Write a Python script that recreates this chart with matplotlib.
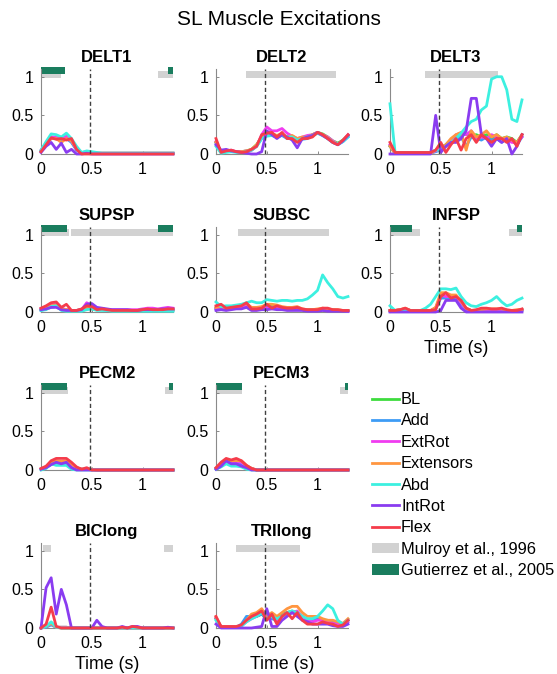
import numpy as np
import matplotlib.pyplot as plt
from matplotlib.lines import Line2D
from matplotlib.patches import Patch

plt.rcParams['font.family'] = ['Liberation Sans', 'DejaVu Sans']

# time of each sample (s), one every 0.05 s
t = np.linspace(0, 1.3, 27)

conditions = ['BL', 'Add', 'ExtRot', 'Extensors', 'Abd', 'IntRot', 'Flex']
colors = ['#3ddc3d', '#3d9cf5', '#f03cf0', '#ff9640', '#3cf0e0', '#8a3cf0', '#f53c4b']

# excitations, one row per condition (order as above)
delt1 = [
    [0.04, 0.14, 0.22, 0.21, 0.19, 0.22, 0.16, 0.06, 0.01, 0.02, 0.01, 0.01, 0.01, 0.01, 0.01, 0.01, 0.01, 0.01, 0.01, 0.01, 0.01, 0.01, 0.01, 0.01, 0.01, 0.01, 0.01],
    [0.04, 0.13, 0.20, 0.20, 0.18, 0.20, 0.15, 0.05, 0.01, 0.02, 0.01, 0.01, 0.01, 0.01, 0.01, 0.01, 0.01, 0.01, 0.01, 0.01, 0.01, 0.01, 0.01, 0.01, 0.01, 0.01, 0.01],
    [0.05, 0.14, 0.22, 0.22, 0.20, 0.23, 0.17, 0.06, 0.02, 0.03, 0.02, 0.01, 0.01, 0.01, 0.01, 0.01, 0.01, 0.01, 0.01, 0.01, 0.01, 0.01, 0.01, 0.01, 0.01, 0.01, 0.01],
    [0.04, 0.13, 0.20, 0.20, 0.15, 0.20, 0.17, 0.07, 0.01, 0.02, 0.01, 0.01, 0.01, 0.01, 0.01, 0.01, 0.01, 0.01, 0.01, 0.01, 0.01, 0.01, 0.01, 0.01, 0.01, 0.01, 0.01],
    [0.05, 0.16, 0.26, 0.25, 0.22, 0.27, 0.20, 0.10, 0.02, 0.04, 0.03, 0.02, 0.01, 0.01, 0.01, 0.01, 0.01, 0.01, 0.01, 0.01, 0.01, 0.01, 0.01, 0.01, 0.01, 0.01, 0.01],
    [0.02, 0.10, 0.15, 0.06, 0.14, 0.02, 0.06, 0.00, 0.00, 0.01, 0.00, 0.00, 0.00, 0.00, 0.00, 0.00, 0.00, 0.00, 0.00, 0.00, 0.00, 0.00, 0.00, 0.00, 0.00, 0.00, 0.00],
    [0.03, 0.12, 0.21, 0.19, 0.20, 0.18, 0.20, 0.06, 0.00, 0.00, 0.00, 0.00, 0.00, 0.00, 0.00, 0.00, 0.00, 0.00, 0.00, 0.00, 0.00, 0.00, 0.00, 0.00, 0.00, 0.00, 0.00],
]
delt2 = [
    [0.15, 0.03, 0.04, 0.04, 0.03, 0.03, 0.04, 0.06, 0.12, 0.22, 0.25, 0.25, 0.24, 0.25, 0.22, 0.22, 0.18, 0.20, 0.22, 0.25, 0.28, 0.26, 0.22, 0.17, 0.14, 0.18, 0.24],
    [0.14, 0.02, 0.03, 0.03, 0.03, 0.02, 0.03, 0.05, 0.10, 0.20, 0.24, 0.24, 0.22, 0.24, 0.20, 0.20, 0.16, 0.19, 0.20, 0.24, 0.27, 0.24, 0.20, 0.15, 0.12, 0.16, 0.22],
    [0.16, 0.03, 0.04, 0.05, 0.03, 0.03, 0.04, 0.05, 0.10, 0.25, 0.35, 0.30, 0.30, 0.33, 0.27, 0.23, 0.20, 0.22, 0.24, 0.25, 0.28, 0.25, 0.22, 0.17, 0.13, 0.17, 0.25],
    [0.15, 0.03, 0.04, 0.04, 0.03, 0.03, 0.04, 0.06, 0.12, 0.22, 0.27, 0.26, 0.24, 0.26, 0.22, 0.24, 0.20, 0.22, 0.22, 0.25, 0.28, 0.25, 0.21, 0.16, 0.13, 0.17, 0.24],
    [0.10, 0.01, 0.02, 0.03, 0.02, 0.02, 0.03, 0.05, 0.10, 0.20, 0.23, 0.24, 0.22, 0.25, 0.22, 0.22, 0.18, 0.20, 0.22, 0.24, 0.27, 0.24, 0.20, 0.15, 0.13, 0.16, 0.22],
    [0.12, 0.05, 0.06, 0.04, 0.03, 0.02, 0.01, 0.00, 0.00, 0.03, 0.30, 0.25, 0.20, 0.25, 0.22, 0.18, 0.08, 0.20, 0.22, 0.24, 0.28, 0.24, 0.20, 0.15, 0.12, 0.17, 0.24],
    [0.20, 0.02, 0.04, 0.05, 0.03, 0.02, 0.03, 0.06, 0.10, 0.25, 0.27, 0.28, 0.22, 0.28, 0.20, 0.20, 0.15, 0.20, 0.20, 0.22, 0.28, 0.25, 0.20, 0.15, 0.12, 0.18, 0.25],
]
delt3 = [
    [0.10, 0.01, 0.01, 0.01, 0.01, 0.01, 0.01, 0.01, 0.01, 0.05, 0.08, 0.12, 0.18, 0.22, 0.25, 0.26, 0.24, 0.25, 0.22, 0.25, 0.20, 0.25, 0.20, 0.22, 0.20, 0.15, 0.25],
    [0.10, 0.01, 0.01, 0.01, 0.01, 0.01, 0.01, 0.01, 0.01, 0.03, 0.05, 0.10, 0.15, 0.20, 0.22, 0.10, 0.22, 0.20, 0.18, 0.22, 0.18, 0.20, 0.15, 0.20, 0.18, 0.12, 0.22],
    [0.12, 0.01, 0.01, 0.01, 0.01, 0.01, 0.01, 0.01, 0.01, 0.04, 0.06, 0.10, 0.18, 0.25, 0.27, 0.25, 0.30, 0.20, 0.22, 0.20, 0.25, 0.22, 0.20, 0.18, 0.15, 0.15, 0.22],
    [0.10, 0.01, 0.01, 0.01, 0.01, 0.01, 0.01, 0.01, 0.01, 0.05, 0.08, 0.12, 0.20, 0.25, 0.28, 0.05, 0.30, 0.22, 0.25, 0.30, 0.22, 0.25, 0.20, 0.22, 0.18, 0.15, 0.25],
    [0.65, 0.02, 0.02, 0.02, 0.02, 0.02, 0.02, 0.02, 0.02, 0.05, 0.05, 0.10, 0.15, 0.20, 0.27, 0.35, 0.42, 0.45, 0.57, 0.62, 0.97, 1.00, 1.00, 0.83, 0.45, 0.42, 0.70],
    [0.00, 0.00, 0.00, 0.00, 0.00, 0.00, 0.00, 0.00, 0.00, 0.50, 0.02, 0.10, 0.15, 0.15, 0.20, 0.30, 0.72, 0.72, 0.25, 0.20, 0.10, 0.20, 0.15, 0.20, 0.00, 0.10, 0.25],
    [0.15, 0.02, 0.02, 0.02, 0.02, 0.02, 0.02, 0.02, 0.02, 0.05, 0.15, 0.02, 0.12, 0.20, 0.05, 0.20, 0.25, 0.15, 0.25, 0.20, 0.15, 0.20, 0.20, 0.15, 0.20, 0.10, 0.25],
]
supsp = [
    [0.03, 0.05, 0.08, 0.08, 0.04, 0.03, 0.02, 0.02, 0.03, 0.05, 0.06, 0.04, 0.04, 0.03, 0.02, 0.02, 0.02, 0.02, 0.02, 0.02, 0.03, 0.03, 0.03, 0.03, 0.03, 0.03, 0.03],
    [0.02, 0.04, 0.06, 0.07, 0.03, 0.02, 0.02, 0.02, 0.02, 0.04, 0.05, 0.03, 0.03, 0.02, 0.02, 0.02, 0.02, 0.02, 0.02, 0.02, 0.02, 0.02, 0.02, 0.02, 0.02, 0.02, 0.02],
    [0.04, 0.05, 0.09, 0.10, 0.05, 0.03, 0.02, 0.02, 0.03, 0.12, 0.08, 0.05, 0.04, 0.03, 0.03, 0.03, 0.03, 0.03, 0.03, 0.03, 0.04, 0.05, 0.05, 0.04, 0.05, 0.06, 0.05],
    [0.03, 0.05, 0.08, 0.09, 0.04, 0.03, 0.02, 0.02, 0.03, 0.06, 0.06, 0.04, 0.04, 0.03, 0.02, 0.02, 0.02, 0.02, 0.02, 0.02, 0.03, 0.03, 0.03, 0.03, 0.03, 0.03, 0.03],
    [0.02, 0.03, 0.07, 0.08, 0.02, 0.01, 0.01, 0.01, 0.01, 0.03, 0.04, 0.02, 0.02, 0.02, 0.01, 0.01, 0.01, 0.01, 0.01, 0.01, 0.01, 0.01, 0.01, 0.01, 0.01, 0.01, 0.01],
    [0.03, 0.04, 0.06, 0.06, 0.03, 0.02, 0.02, 0.02, 0.03, 0.10, 0.11, 0.06, 0.05, 0.04, 0.03, 0.03, 0.03, 0.03, 0.02, 0.02, 0.03, 0.03, 0.03, 0.03, 0.04, 0.04, 0.04],
    [0.05, 0.08, 0.12, 0.13, 0.06, 0.10, 0.02, 0.02, 0.04, 0.08, 0.07, 0.03, 0.04, 0.03, 0.02, 0.02, 0.02, 0.02, 0.02, 0.02, 0.03, 0.04, 0.03, 0.03, 0.03, 0.04, 0.04],
]
subsc = [
    [0.05, 0.06, 0.04, 0.06, 0.07, 0.08, 0.10, 0.05, 0.05, 0.06, 0.08, 0.07, 0.07, 0.06, 0.05, 0.05, 0.05, 0.03, 0.03, 0.03, 0.03, 0.04, 0.03, 0.03, 0.02, 0.02, 0.02],
    [0.04, 0.05, 0.03, 0.05, 0.06, 0.07, 0.09, 0.04, 0.04, 0.05, 0.07, 0.06, 0.06, 0.05, 0.04, 0.04, 0.04, 0.03, 0.02, 0.02, 0.02, 0.03, 0.02, 0.02, 0.02, 0.02, 0.01],
    [0.04, 0.05, 0.03, 0.04, 0.05, 0.06, 0.08, 0.03, 0.03, 0.04, 0.05, 0.05, 0.05, 0.04, 0.04, 0.04, 0.04, 0.03, 0.02, 0.02, 0.02, 0.03, 0.02, 0.02, 0.02, 0.02, 0.01],
    [0.06, 0.07, 0.05, 0.06, 0.08, 0.09, 0.11, 0.06, 0.06, 0.07, 0.10, 0.10, 0.09, 0.07, 0.06, 0.06, 0.07, 0.04, 0.03, 0.03, 0.04, 0.05, 0.04, 0.03, 0.03, 0.02, 0.02],
    [0.13, 0.07, 0.08, 0.08, 0.09, 0.10, 0.12, 0.14, 0.12, 0.12, 0.16, 0.15, 0.14, 0.15, 0.15, 0.14, 0.15, 0.15, 0.17, 0.22, 0.28, 0.48, 0.38, 0.30, 0.20, 0.18, 0.20],
    [0.02, 0.03, 0.02, 0.03, 0.04, 0.04, 0.06, 0.02, 0.02, 0.03, 0.03, 0.04, 0.03, 0.03, 0.02, 0.02, 0.02, 0.02, 0.01, 0.01, 0.01, 0.02, 0.01, 0.01, 0.01, 0.01, 0.01],
    [0.08, 0.10, 0.05, 0.06, 0.07, 0.08, 0.12, 0.04, 0.04, 0.05, 0.10, 0.05, 0.08, 0.06, 0.05, 0.05, 0.06, 0.04, 0.03, 0.03, 0.03, 0.05, 0.05, 0.03, 0.03, 0.02, 0.02],
]
infsp = [
    [0.02, 0.02, 0.03, 0.04, 0.02, 0.02, 0.02, 0.02, 0.02, 0.05, 0.20, 0.20, 0.18, 0.20, 0.12, 0.04, 0.02, 0.02, 0.03, 0.03, 0.03, 0.03, 0.03, 0.02, 0.02, 0.02, 0.03],
    [0.01, 0.01, 0.02, 0.03, 0.01, 0.01, 0.01, 0.01, 0.01, 0.04, 0.18, 0.18, 0.16, 0.18, 0.10, 0.03, 0.01, 0.01, 0.02, 0.02, 0.02, 0.02, 0.02, 0.01, 0.01, 0.01, 0.02],
    [0.02, 0.02, 0.03, 0.04, 0.02, 0.02, 0.02, 0.02, 0.02, 0.05, 0.22, 0.20, 0.20, 0.20, 0.12, 0.04, 0.02, 0.02, 0.03, 0.03, 0.03, 0.03, 0.03, 0.02, 0.02, 0.02, 0.03],
    [0.02, 0.02, 0.03, 0.05, 0.02, 0.02, 0.02, 0.02, 0.02, 0.06, 0.25, 0.25, 0.22, 0.22, 0.14, 0.05, 0.02, 0.02, 0.03, 0.04, 0.04, 0.04, 0.04, 0.02, 0.02, 0.03, 0.03],
    [0.08, 0.02, 0.02, 0.02, 0.02, 0.02, 0.02, 0.05, 0.10, 0.20, 0.30, 0.30, 0.29, 0.31, 0.20, 0.12, 0.08, 0.07, 0.10, 0.12, 0.15, 0.20, 0.13, 0.08, 0.10, 0.15, 0.18],
    [0.00, 0.00, 0.00, 0.00, 0.00, 0.00, 0.00, 0.00, 0.00, 0.00, 0.02, 0.15, 0.15, 0.15, 0.05, 0.00, 0.00, 0.00, 0.00, 0.00, 0.00, 0.00, 0.00, 0.00, 0.00, 0.00, 0.00],
    [0.02, 0.02, 0.03, 0.05, 0.02, 0.02, 0.02, 0.02, 0.02, 0.03, 0.20, 0.25, 0.18, 0.20, 0.15, 0.05, 0.02, 0.03, 0.05, 0.05, 0.04, 0.04, 0.05, 0.03, 0.02, 0.02, 0.04],
]
pecm2 = [
    [0.01, 0.03, 0.08, 0.10, 0.10, 0.10, 0.06, 0.02, 0.01, 0.01, 0.01, 0.00, 0.00, 0.00, 0.00, 0.00, 0.00, 0.00, 0.00, 0.00, 0.00, 0.00, 0.00, 0.00, 0.00, 0.00, 0.00],
    [0.01, 0.03, 0.07, 0.09, 0.08, 0.09, 0.05, 0.02, 0.01, 0.01, 0.00, 0.00, 0.00, 0.00, 0.00, 0.00, 0.00, 0.00, 0.00, 0.00, 0.00, 0.00, 0.00, 0.00, 0.00, 0.00, 0.00],
    [0.01, 0.04, 0.09, 0.11, 0.10, 0.11, 0.07, 0.02, 0.01, 0.01, 0.01, 0.00, 0.00, 0.00, 0.00, 0.00, 0.00, 0.00, 0.00, 0.00, 0.00, 0.00, 0.00, 0.00, 0.00, 0.00, 0.00],
    [0.01, 0.04, 0.10, 0.12, 0.11, 0.12, 0.08, 0.03, 0.01, 0.01, 0.01, 0.00, 0.00, 0.00, 0.00, 0.00, 0.00, 0.00, 0.00, 0.00, 0.00, 0.00, 0.00, 0.00, 0.00, 0.00, 0.00],
    [0.00, 0.02, 0.08, 0.06, 0.06, 0.06, 0.01, 0.00, 0.00, 0.00, 0.00, 0.00, 0.00, 0.00, 0.00, 0.00, 0.00, 0.00, 0.00, 0.00, 0.00, 0.00, 0.00, 0.00, 0.00, 0.00, 0.00],
    [0.01, 0.03, 0.07, 0.10, 0.08, 0.10, 0.03, 0.00, 0.00, 0.00, 0.00, 0.00, 0.00, 0.00, 0.00, 0.00, 0.00, 0.00, 0.00, 0.00, 0.00, 0.00, 0.00, 0.00, 0.00, 0.00, 0.00],
    [0.02, 0.05, 0.12, 0.15, 0.15, 0.15, 0.10, 0.04, 0.01, 0.03, 0.00, 0.00, 0.00, 0.00, 0.00, 0.00, 0.00, 0.00, 0.00, 0.00, 0.00, 0.00, 0.00, 0.00, 0.00, 0.00, 0.00],
]
pecm3 = [
    [0.02, 0.06, 0.10, 0.10, 0.10, 0.10, 0.05, 0.02, 0.00, 0.00, 0.00, 0.00, 0.00, 0.00, 0.00, 0.00, 0.00, 0.00, 0.00, 0.00, 0.00, 0.00, 0.00, 0.00, 0.00, 0.00, 0.00],
    [0.01, 0.05, 0.09, 0.08, 0.08, 0.08, 0.04, 0.01, 0.00, 0.00, 0.00, 0.00, 0.00, 0.00, 0.00, 0.00, 0.00, 0.00, 0.00, 0.00, 0.00, 0.00, 0.00, 0.00, 0.00, 0.00, 0.00],
    [0.02, 0.06, 0.10, 0.10, 0.10, 0.10, 0.05, 0.02, 0.00, 0.00, 0.00, 0.00, 0.00, 0.00, 0.00, 0.00, 0.00, 0.00, 0.00, 0.00, 0.00, 0.00, 0.00, 0.00, 0.00, 0.00, 0.00],
    [0.02, 0.07, 0.12, 0.12, 0.12, 0.12, 0.06, 0.02, 0.00, 0.00, 0.00, 0.00, 0.00, 0.00, 0.00, 0.00, 0.00, 0.00, 0.00, 0.00, 0.00, 0.00, 0.00, 0.00, 0.00, 0.00, 0.00],
    [0.01, 0.04, 0.08, 0.05, 0.05, 0.04, 0.01, 0.00, 0.00, 0.00, 0.00, 0.00, 0.00, 0.00, 0.00, 0.00, 0.00, 0.00, 0.00, 0.00, 0.00, 0.00, 0.00, 0.00, 0.00, 0.00, 0.00],
    [0.01, 0.05, 0.12, 0.08, 0.08, 0.05, 0.03, 0.00, 0.00, 0.00, 0.00, 0.00, 0.00, 0.00, 0.00, 0.00, 0.00, 0.00, 0.00, 0.00, 0.00, 0.00, 0.00, 0.00, 0.00, 0.00, 0.00],
    [0.03, 0.10, 0.15, 0.13, 0.15, 0.12, 0.06, 0.02, 0.00, 0.00, 0.00, 0.00, 0.00, 0.00, 0.00, 0.00, 0.00, 0.00, 0.00, 0.00, 0.00, 0.00, 0.00, 0.00, 0.00, 0.00, 0.00],
]
biclong = [
    [0.00, 0.02, 0.05, 0.01, 0.01, 0.01, 0.00, 0.00, 0.00, 0.00, 0.00, 0.00, 0.00, 0.00, 0.00, 0.00, 0.00, 0.00, 0.00, 0.00, 0.00, 0.00, 0.00, 0.00, 0.00, 0.00, 0.00],
    [0.00, 0.01, 0.04, 0.01, 0.00, 0.00, 0.00, 0.00, 0.00, 0.00, 0.00, 0.00, 0.00, 0.00, 0.00, 0.00, 0.00, 0.00, 0.00, 0.00, 0.00, 0.00, 0.00, 0.00, 0.00, 0.00, 0.00],
    [0.00, 0.02, 0.06, 0.01, 0.01, 0.01, 0.00, 0.00, 0.00, 0.00, 0.00, 0.00, 0.00, 0.00, 0.00, 0.00, 0.00, 0.00, 0.00, 0.00, 0.00, 0.00, 0.00, 0.00, 0.00, 0.00, 0.00],
    [0.00, 0.02, 0.06, 0.01, 0.00, 0.00, 0.00, 0.00, 0.00, 0.00, 0.00, 0.00, 0.00, 0.00, 0.00, 0.00, 0.00, 0.00, 0.00, 0.00, 0.00, 0.00, 0.00, 0.00, 0.00, 0.00, 0.00],
    [0.00, 0.02, 0.08, 0.01, 0.00, 0.00, 0.00, 0.00, 0.00, 0.00, 0.00, 0.00, 0.00, 0.00, 0.00, 0.00, 0.00, 0.00, 0.00, 0.00, 0.00, 0.00, 0.00, 0.00, 0.00, 0.00, 0.00],
    [0.00, 0.52, 0.65, 0.18, 0.50, 0.30, 0.00, 0.00, 0.00, 0.00, 0.00, 0.10, 0.02, 0.00, 0.00, 0.00, 0.02, 0.00, 0.02, 0.02, 0.00, 0.00, 0.00, 0.00, 0.00, 0.01, 0.00],
    [0.00, 0.05, 0.27, 0.02, 0.00, 0.00, 0.00, 0.00, 0.00, 0.00, 0.00, 0.00, 0.00, 0.00, 0.00, 0.00, 0.01, 0.00, 0.02, 0.01, 0.00, 0.00, 0.00, 0.00, 0.00, 0.00, 0.00],
]
trilong = [
    [0.12, 0.01, 0.01, 0.01, 0.01, 0.03, 0.10, 0.15, 0.15, 0.18, 0.12, 0.15, 0.10, 0.18, 0.20, 0.22, 0.20, 0.15, 0.10, 0.10, 0.12, 0.10, 0.10, 0.08, 0.05, 0.05, 0.10],
    [0.12, 0.01, 0.01, 0.01, 0.01, 0.05, 0.15, 0.15, 0.15, 0.18, 0.12, 0.12, 0.10, 0.15, 0.18, 0.20, 0.18, 0.13, 0.10, 0.10, 0.12, 0.10, 0.08, 0.08, 0.05, 0.05, 0.10],
    [0.13, 0.01, 0.01, 0.01, 0.01, 0.03, 0.08, 0.12, 0.15, 0.22, 0.20, 0.15, 0.10, 0.15, 0.20, 0.20, 0.22, 0.15, 0.10, 0.08, 0.10, 0.10, 0.08, 0.06, 0.05, 0.05, 0.08],
    [0.14, 0.01, 0.01, 0.01, 0.01, 0.03, 0.10, 0.18, 0.20, 0.25, 0.15, 0.20, 0.15, 0.20, 0.25, 0.28, 0.28, 0.20, 0.15, 0.15, 0.15, 0.12, 0.10, 0.10, 0.08, 0.06, 0.12],
    [0.10, 0.01, 0.01, 0.01, 0.01, 0.02, 0.08, 0.12, 0.15, 0.20, 0.12, 0.15, 0.12, 0.15, 0.20, 0.22, 0.20, 0.15, 0.12, 0.12, 0.15, 0.22, 0.30, 0.25, 0.10, 0.05, 0.10],
    [0.05, 0.00, 0.00, 0.00, 0.00, 0.00, 0.00, 0.00, 0.01, 0.02, 0.25, 0.02, 0.02, 0.10, 0.15, 0.20, 0.15, 0.10, 0.08, 0.05, 0.05, 0.05, 0.05, 0.03, 0.02, 0.02, 0.05],
    [0.15, 0.02, 0.02, 0.02, 0.02, 0.04, 0.10, 0.15, 0.18, 0.22, 0.10, 0.18, 0.05, 0.15, 0.20, 0.12, 0.20, 0.10, 0.05, 0.05, 0.05, 0.08, 0.06, 0.05, 0.02, 0.04, 0.10],
]

muscles = ['DELT1', 'DELT2', 'DELT3', 'SUPSP', 'SUBSC', 'INFSP', 'PECM2', 'PECM3', 'BIClong', 'TRIlong']
excitations = [delt1, delt2, delt3, supsp, subsc, infsp, pecm2, pecm3, biclong, trilong]
# (row, col) of each panel in the 4 x 3 grid
panel_pos = [(0, 0), (0, 1), (0, 2), (1, 0), (1, 1), (1, 2), (2, 0), (2, 1), (3, 0), (3, 1)]

# EMG on-periods from literature (start, end) in s
mulroy_on = [
    [(0.0, 0.2), (1.15, 1.3)],
    [(0.3, 1.18)],
    [(0.34, 1.06)],
    [(0.0, 0.28), (0.3, 1.3)],
    [(0.22, 1.11)],
    [(0.0, 0.3), (1.17, 1.3)],
    [(0.0, 0.27), (1.22, 1.3)],
    [(0.0, 0.26), (1.22, 1.3)],
    [(0.02, 0.1), (1.21, 1.3)],
    [(0.2, 0.83)],
]
gutierrez_on = [
    [(0.0, 0.24), (1.25, 1.3)],
    [],
    [],
    [(0.0, 0.26), (1.15, 1.3)],
    [],
    [(0.0, 0.22), (1.25, 1.3)],
    [(0.0, 0.26), (1.26, 1.3)],
    [(0.0, 0.26), (1.27, 1.3)],
    [],
    [],
]

grey = '#d2d2d2'
green = '#1a7d5e'

fig = plt.figure(figsize=(5.57, 6.74), dpi=100)
fig.suptitle('SL Muscle Excitations', fontsize=15, y=0.985)

lefts = [41 / 557, 216 / 557, 390 / 557]
bottoms = [1 - 154 / 674, 1 - 312 / 674, 1 - 470 / 674, 1 - 628 / 674]
w = 132 / 557
h = 85 / 674

for i, name in enumerate(muscles):
    r, c = panel_pos[i]
    ax = fig.add_axes([lefts[c], bottoms[r], w, h])

    # literature on-periods drawn as bars above the traces
    for s, e in mulroy_on[i]:
        ax.broken_barh([(s, e - s)], (0.98, 0.09), facecolor=grey, clip_on=False, zorder=1)
    for s, e in gutierrez_on[i]:
        ax.broken_barh([(s, e - s)], (1.03, 0.09), facecolor=green, clip_on=False, zorder=2)

    for k, cond in enumerate(conditions):
        ax.plot(t, excitations[i][k], color=colors[k], lw=2.0, zorder=3 + k, clip_on=False)

    ax.axvline(0.48, color='#404040', lw=1.0, dashes=(3, 2), zorder=20)

    ax.set_xlim(0, 1.3)
    ax.set_ylim(0, 1.1)
    ax.set_xticks([0, 0.5, 1])
    ax.set_xticklabels(['0', '0.5', '1'])
    ax.set_yticks([0, 0.5, 1])
    ax.set_yticklabels(['0', '0.5', '1'])
    ax.tick_params(direction='in', length=2.5, width=0.6, color='#777777',
                   labelsize=11.5, pad=5.5)
    for side in ['top', 'right']:
        ax.spines[side].set_visible(False)
    for side in ['left', 'bottom']:
        ax.spines[side].set_color('#8a8a8a')
        ax.spines[side].set_linewidth(0.8)
    ax.set_title(name, fontsize=12, fontweight='bold', pad=5)
    if name in ['INFSP', 'BIClong', 'TRIlong']:
        ax.set_xlabel('Time (s)', fontsize=12.8, labelpad=4)

handles = [Line2D([], [], color=colors[k], lw=2.0) for k in range(len(conditions))]
handles += [Patch(facecolor=grey, edgecolor='none'), Patch(facecolor=green, edgecolor='none')]
labels = conditions + ['Mulroy et al., 1996', 'Gutierrez et al., 2005']
fig.legend(handles, labels, loc='upper left', bbox_to_anchor=(372 / 557, 1 - 392 / 674),
           frameon=False, fontsize=11.8, handlelength=1.65, handleheight=0.6,
           handletextpad=0.12, labelspacing=0.39, borderpad=0, borderaxespad=0)

fig.savefig('out.png', dpi=100)
